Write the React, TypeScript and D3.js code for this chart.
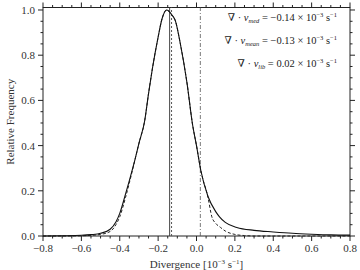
import * as d3 from 'd3';

const W = 360;
const H = 270;
const margin = { top: 7.5, right: 10, bottom: 34, left: 43 };

// observed histogram (solid)
const obsX = [-0.8, -0.7, -0.6, -0.55, -0.5, -0.45, -0.42, -0.4, -0.37, -0.35, -0.32, -0.3, -0.27, -0.25, -0.23, -0.2, -0.18, -0.155, -0.13, -0.11, -0.085, -0.05, -0.02, 0.0, 0.022, 0.06, 0.1, 0.12, 0.15, 0.21, 0.3, 0.4, 0.5, 0.6, 0.7, 0.8];
const obsY = [0.0, 0.001, 0.003, 0.006, 0.012, 0.03, 0.062, 0.1, 0.185, 0.245, 0.34, 0.41, 0.51, 0.63, 0.74, 0.88, 0.96, 1.0, 0.98, 0.952, 0.854, 0.68, 0.49, 0.4, 0.292, 0.175, 0.108, 0.085, 0.06, 0.038, 0.025, 0.018, 0.012, 0.008, 0.005, 0.004];

// fitted curve (dashed)
const fitX = [-0.8, -0.7, -0.6, -0.55, -0.5, -0.45, -0.42, -0.4, -0.37, -0.35, -0.32, -0.3, -0.27, -0.25, -0.23, -0.2, -0.18, -0.155, -0.13, -0.11, -0.085, -0.05, -0.02, 0.0, 0.022, 0.06, 0.08, 0.1, 0.125, 0.15, 0.2, 0.25, 0.3, 0.4, 0.6, 0.8];
const fitY = [0.0, 0.0, 0.001, 0.003, 0.007, 0.02, 0.05, 0.085, 0.17, 0.235, 0.34, 0.41, 0.51, 0.63, 0.74, 0.88, 0.96, 1.0, 0.98, 0.952, 0.854, 0.68, 0.49, 0.4, 0.292, 0.17, 0.085, 0.056, 0.038, 0.022, 0.007, 0.002, 0.0, 0.0, 0.0, 0.0];

const xMajor = [-0.8, -0.6, -0.4, -0.2, 0.0, 0.2, 0.4, 0.6, 0.8];
const yMajor = [0.0, 0.2, 0.4, 0.6, 0.8, 1.0];

const vMed = -0.14;
const vMean = -0.13;
const vLib = 0.02;

const labels = [
  { sub: 'med', val: '\u22120.14' },
  { sub: 'mean', val: '\u22120.13' },
  { sub: 'lib', val: '0.02' },
];

const font = "'Liberation Serif', 'DejaVu Serif', 'Times New Roman', Times, serif";

const fmt = (v: number) => (Math.abs(v) < 1e-9 ? '0.0' : d3.format('.1f')(v).replace('-', '\u2212'));

export default function App() {
  const x0 = margin.left;
  const x1 = W - margin.right;
  const y0 = H - margin.bottom;
  const y1 = margin.top;
  const x = d3.scaleLinear().domain([-0.8, 0.8]).range([x0, x1]);
  const y = d3.scaleLinear().domain([0, 1.011]).range([y0, y1]);

  const line = d3
    .line<[number, number]>()
    .x((d) => x(d[0]))
    .y((d) => y(d[1]))
    .curve(d3.curveMonotoneX);

  const obs = obsX.map((v, i) => [v, obsY[i]] as [number, number]);
  const fit = fitX.map((v, i) => [v, fitY[i]] as [number, number]);

  const xMinor = d3.range(-0.8, 0.8001, 0.05).filter((v) => !xMajor.some((m) => Math.abs(m - v) < 1e-6));
  const yMinor = d3.range(0, 1.0001, 0.05).filter((v) => !yMajor.some((m) => Math.abs(m - v) < 1e-6));

  const stroke = '#222';
  const tf = { fontFamily: font };

  return (
    <svg width={W} height={H} style={{ position: 'absolute', left: 0, top: 0, background: '#fff', fontFamily: font }}>
      <rect x={x0} y={y1} width={x1 - x0} height={y0 - y1} fill="none" stroke={stroke} strokeWidth={1} />
      {/* x ticks, bottom and top, outward */}
      {xMajor.map((v) => (
        <g key={'xm' + v}>
          <line x1={x(v)} x2={x(v)} y1={y0} y2={y0 + 5} stroke={stroke} />
          <line x1={x(v)} x2={x(v)} y1={y1} y2={y1 - 5} stroke={stroke} />
          <text x={x(v)} y={y0 + 16} textAnchor="middle" fontSize={11} style={tf} fill="#333">
            {fmt(v)}
          </text>
        </g>
      ))}
      {xMinor.map((v) => (
        <g key={'xn' + v}>
          <line x1={x(v)} x2={x(v)} y1={y0} y2={y0 + 2.5} stroke={stroke} />
          <line x1={x(v)} x2={x(v)} y1={y1} y2={y1 - 2.5} stroke={stroke} />
        </g>
      ))}
      {yMajor.map((v) => (
        <g key={'ym' + v}>
          <line x1={x0} x2={x0 - 5} y1={y(v)} y2={y(v)} stroke={stroke} />
          <line x1={x1} x2={x1 + 5} y1={y(v)} y2={y(v)} stroke={stroke} />
          <text x={x0 - 8} y={y(v) + 4} textAnchor="end" fontSize={11} style={tf} fill="#333">
            {fmt(v)}
          </text>
        </g>
      ))}
      {yMinor.map((v) => (
        <g key={'yn' + v}>
          <line x1={x0} x2={x0 - 2.5} y1={y(v)} y2={y(v)} stroke={stroke} />
          <line x1={x1} x2={x1 + 2.5} y1={y(v)} y2={y(v)} stroke={stroke} />
        </g>
      ))}
      {/* reference lines */}
      <line x1={x(vMed)} x2={x(vMed)} y1={y0} y2={y1} stroke="#444" strokeWidth={1} />
      <line x1={x(vMean)} x2={x(vMean)} y1={y0} y2={y1} stroke="#555" strokeWidth={1} strokeDasharray="2,2" />
      <line x1={x(vLib)} x2={x(vLib)} y1={y0} y2={y1} stroke="#555" strokeWidth={0.8} strokeDasharray="4,2,1,2" />
      {/* curves */}
      <path d={line(fit) ?? ''} fill="none" stroke="#222" strokeWidth={1} strokeDasharray="3,2" />
      <path d={line(obs) ?? ''} fill="none" stroke="#111" strokeWidth={1.1} />
      {/* annotations */}
      {labels.map((l, i) => (
        <text key={l.sub} x={337} y={21 + i * 23} textAnchor="end" fontSize={10.5} style={tf} fill="#222">
          {'\u2207 \u00b7 '}
          <tspan fontStyle="italic">v</tspan>
          <tspan fontSize={6.5} dy={2} fontStyle="italic">{l.sub}</tspan>
          <tspan dy={-2}>{' = ' + l.val + ' \u00d7 10'}</tspan>
          <tspan fontSize={6.5} dy={-4}>{'\u22123'}</tspan>
          <tspan dy={4}>{' s'}</tspan>
          <tspan fontSize={6.5} dy={-4}>{'\u22121'}</tspan>
        </text>
      ))}
      {/* axis titles */}
      <text x={(x0 + x1) / 2} y={H - 2} textAnchor="middle" fontSize={11} style={tf} fill="#333">
        {'Divergence   [10'}
        <tspan fontSize={7} dy={-4}>{'\u22123'}</tspan>
        <tspan dy={4}>{' s'}</tspan>
        <tspan fontSize={7} dy={-4}>{'\u22121'}</tspan>
        <tspan dy={4}>{']'}</tspan>
      </text>
      <text
        transform={`translate(14,${(y0 + y1) / 2}) rotate(-90)`}
        textAnchor="middle"
        fontSize={11}
        style={tf}
        fill="#333"
      >
        Relative Frequency
      </text>
    </svg>
  );
}
